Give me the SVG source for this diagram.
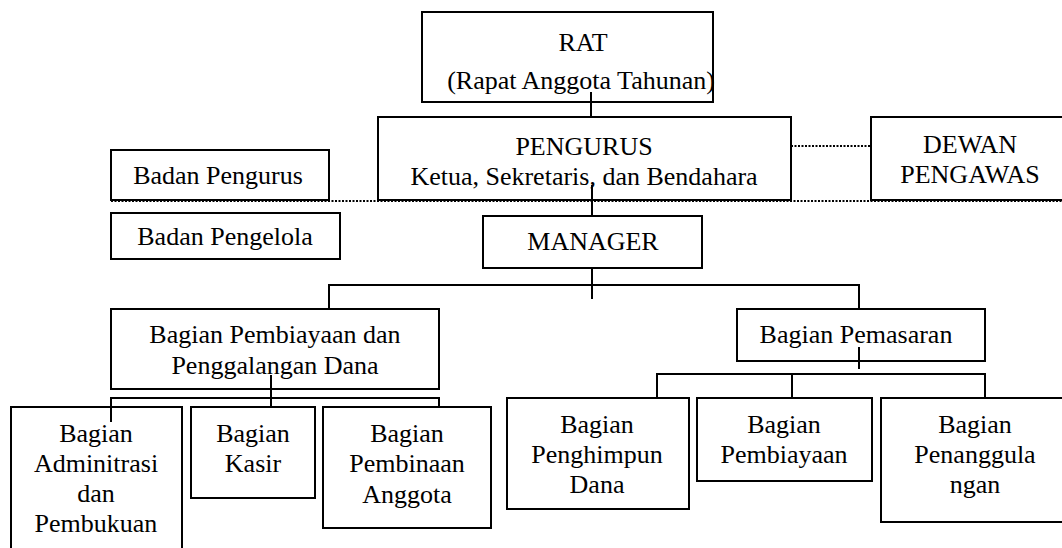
<svg xmlns="http://www.w3.org/2000/svg" width="1062" height="548" viewBox="0 0 1062 548">
<style>
.box{fill:none;stroke:#000;stroke-width:2}
.ln{fill:none;stroke:#000;stroke-width:2}
.dot{fill:none;stroke:#000;stroke-width:2;stroke-dasharray:2 1.5}
</style>
<rect x="0" y="0" width="1062" height="548" fill="#fff"/>
<g id="connectors">
<line class="ln" x1="591" y1="92" x2="591" y2="117"/>
<line class="ln" x1="592" y1="185" x2="592" y2="216"/>
<line class="dot" x1="111" y1="201" x2="1062" y2="201"/>
<line class="dot" x1="791" y1="146" x2="871" y2="146"/>
<line class="ln" x1="592" y1="268" x2="592" y2="299"/>
<polyline class="ln" points="329,309 329,285 859,285 859,309"/>
<line class="ln" x1="271" y1="375" x2="271" y2="407"/>
<polyline class="ln" points="111,422 111,398 439,398 439,407"/>
<line class="ln" x1="859" y1="347" x2="859" y2="369"/>
<polyline class="ln" points="657,398 657,374 985,374 985,398"/>
<line class="ln" x1="792" y1="374" x2="792" y2="398"/>
</g>
<g font-family="'Liberation Serif', 'Times New Roman', 'DejaVu Serif', serif" font-size="26" fill="#000" text-anchor="middle">
<g id="rat">
<rect class="box" x="422" y="12" width="291" height="90"/>
<text x="583" y="51">RAT</text>
<text x="581" y="89">(Rapat Anggota Tahunan)</text>
</g>
<g id="pengurus">
<rect class="box" x="378" y="117" width="413" height="83"/>
<text x="584" y="155">PENGURUS</text>
<text x="584" y="185">Ketua, Sekretaris, dan Bendahara</text>
</g>
<g id="badan-pengurus">
<rect class="box" x="111" y="150" width="218" height="50"/>
<text x="218" y="184">Badan Pengurus</text>
</g>
<g id="dewan-pengawas">
<rect class="box" x="871" y="117" width="200" height="83"/>
<text x="970" y="153">DEWAN</text>
<text x="970" y="183">PENGAWAS</text>
</g>
<g id="badan-pengelola">
<rect class="box" x="111" y="213" width="229" height="46"/>
<text x="225" y="245">Badan Pengelola</text>
</g>
<g id="manager">
<rect class="box" x="483" y="216" width="219" height="52"/>
<text x="593" y="250">MANAGER</text>
</g>
<g id="bagian-pembiayaan-penggalangan">
<rect class="box" x="111" y="309" width="328" height="80"/>
<text x="275" y="343">Bagian Pembiayaan dan</text>
<text x="275" y="374">Penggalangan Dana</text>
</g>
<g id="bagian-pemasaran">
<rect class="box" x="737" y="309" width="248" height="52"/>
<text x="856" y="343">Bagian Pemasaran</text>
</g>
<g id="bagian-administrasi">
<rect class="box" x="11" y="407" width="171" height="150"/>
<text x="96" y="442">Bagian</text>
<text x="96" y="472">Adminitrasi</text>
<text x="96" y="502">dan</text>
<text x="96" y="532">Pembukuan</text>
</g>
<g id="bagian-kasir">
<rect class="box" x="191" y="407" width="124" height="91"/>
<text x="253" y="442">Bagian</text>
<text x="253" y="472">Kasir</text>
</g>
<g id="bagian-pembinaan">
<rect class="box" x="323" y="407" width="168" height="121"/>
<text x="407" y="442">Bagian</text>
<text x="407" y="472">Pembinaan</text>
<text x="407" y="503">Anggota</text>
</g>
<g id="bagian-penghimpun">
<rect class="box" x="507" y="398" width="182" height="111"/>
<text x="597" y="433">Bagian</text>
<text x="597" y="463">Penghimpun</text>
<text x="597" y="493">Dana</text>
</g>
<g id="bagian-pembiayaan">
<rect class="box" x="697" y="398" width="175" height="83"/>
<text x="784" y="433">Bagian</text>
<text x="784" y="463">Pembiayaan</text>
</g>
<g id="bagian-penanggulangan">
<rect class="box" x="881" y="398" width="190" height="124"/>
<text x="975" y="433">Bagian</text>
<text x="975" y="463">Penanggula</text>
<text x="975" y="493">ngan</text>
</g>
</g>
</svg>
